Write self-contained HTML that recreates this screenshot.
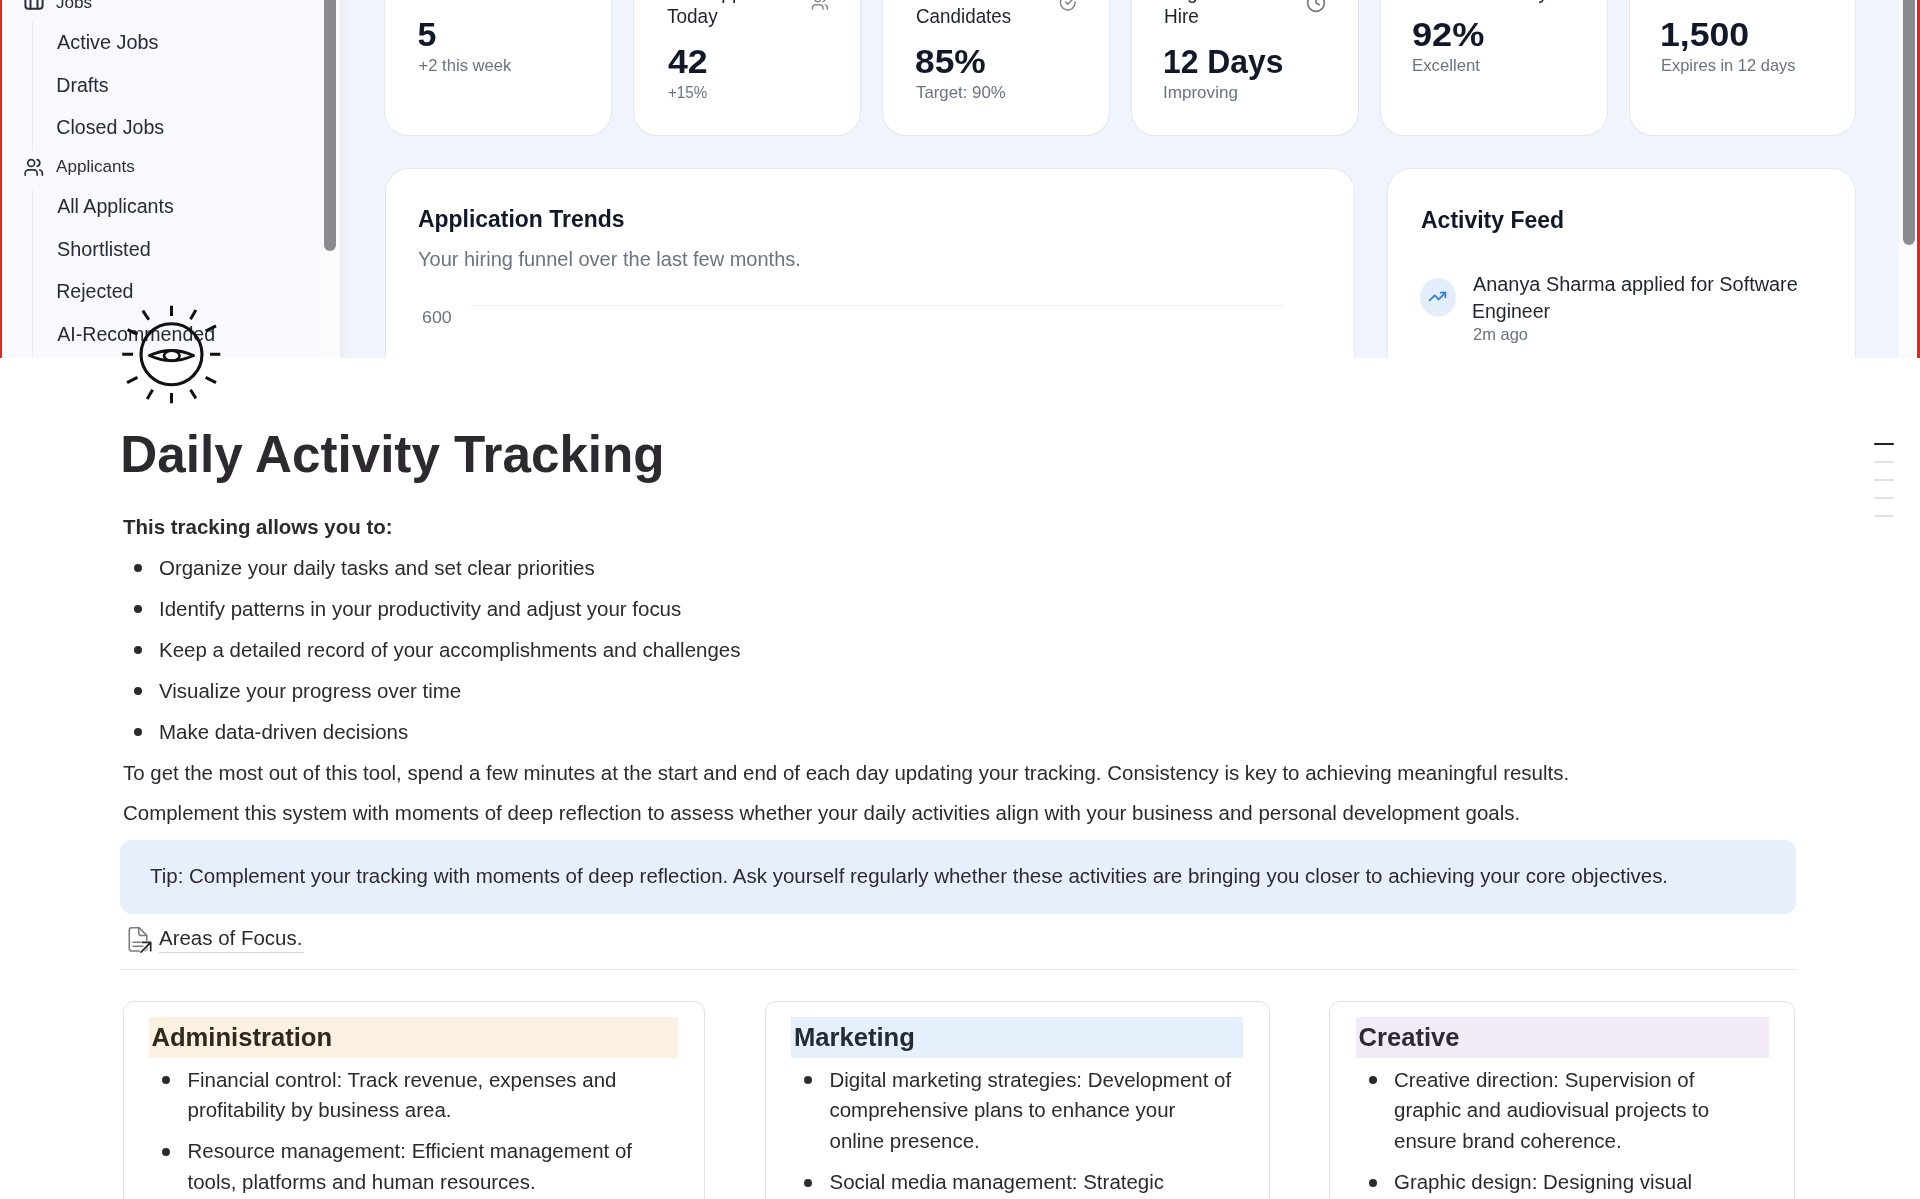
<!DOCTYPE html>
<html><head><meta charset="utf-8">
<style>
*{box-sizing:border-box;margin:0;padding:0}
html,body{width:1920px;height:1199px;overflow:hidden;background:#fff}
#wrap{position:absolute;left:0;top:0;width:1920px;height:1199px;will-change:transform}
body{font-family:"Liberation Sans",sans-serif;color:#2c2a2e;position:relative}
.abs{position:absolute}
/* cover */
#cover{position:absolute;left:0;top:0;width:1920px;height:358px;overflow:hidden;background:#f0f4fc}
#sb{position:absolute;left:0;top:0;width:340px;height:358px;background:#f8f8fd}
#sbedge{position:absolute;left:340px;top:0;width:13px;height:358px;background:linear-gradient(90deg,#e9eaef,#eef1f8 30%,#f0f4fc)}
.redl{position:absolute;left:0;top:0;width:2px;height:358px;background:#e3261b}
.redr{position:absolute;left:1917px;top:0;width:3px;height:358px;background:#e3261b}
.sbtrack{position:absolute;left:322px;top:0;width:18px;height:358px;background:#fbfbfe}
.thumb{position:absolute;width:12px;background:#8b8b8f;border-radius:6px}
.nav{position:absolute;left:57px;font-size:19.6px;color:#252b37;white-space:nowrap;line-height:24px}
.navh{position:absolute;left:56px;font-size:17px;color:#2b303b;white-space:nowrap;line-height:20px}
.tree{position:absolute;left:32px;width:1px;background:#e9ebf0}
.card{position:absolute;background:#fff;border-radius:23px;box-shadow:0 0 0 1px #e6e8ee,0 1px 2px rgba(0,0,0,.06)}
.lbl{position:absolute;font-size:19px;color:#1f2430;white-space:nowrap;line-height:24px}
.num{position:absolute;font-size:32px;font-weight:bold;color:#111827;white-space:nowrap;line-height:36px}
.sub{position:absolute;font-size:16.5px;color:#6b7280;white-space:nowrap;line-height:20px}
/* notion */
.t{position:absolute;font-size:20.48px;line-height:30.72px;white-space:nowrap;color:#2c2a2e}
.b{font-weight:bold}
.dot{position:absolute;width:8px;height:8px;border-radius:50%;background:#2c2a2e}
.col{position:absolute;top:1001px;height:260px;border:1.3px solid #e2e0e3;border-radius:11px;background:#fff}
.h3{position:absolute;top:1017px;height:41px;font-size:25.6px;font-weight:bold;line-height:41px;padding-left:3px;white-space:nowrap}
.ct{position:absolute;white-space:nowrap;transform-origin:0 0}
.toc{position:absolute;left:1874px;width:20px;height:2px;border-radius:1px;background:#e3e3e3}
</style></head><body><div id="wrap">
<div id="cover">
  <div id="sb"></div>
  <div class="sbtrack"></div>
  <div id="sbedge"></div>
  <div class="thumb" style="left:324px;top:-20px;height:271px"></div>
  <div class="redl"></div>
  <svg class="abs" style="left:23.5px;top:-12px" width="20" height="23" viewBox="0 0 20 23" fill="none" stroke="#2b303b" stroke-width="2" stroke-linecap="round" stroke-linejoin="round"><rect x="1.4" y="1" width="17.2" height="19.8" rx="3"/><path d="M6.5 1v19.8M13.5 1v19.8"/></svg>
  <div class="tree" style="top:21px;height:130px"></div>
  <svg class="abs" style="left:23px;top:156.6px" width="21.5" height="20.6" viewBox="0 0 24 24" fill="none" stroke="#2b303b" stroke-width="2" stroke-linecap="round" stroke-linejoin="round"><path d="M16 21v-2a4 4 0 0 0-4-4H6a4 4 0 0 0-4 4v2"/><circle cx="9" cy="7" r="4"/><path d="M22 21v-2a4 4 0 0 0-3-3.87"/><path d="M16 3.13a4 4 0 0 1 0 7.75"/></svg>
  <div class="tree" style="top:190px;height:168px"></div>

  <div class="card" style="left:385px;top:-40px;width:226px;height:175px"></div>
  <div class="card" style="left:634px;top:-40px;width:226px;height:175px"></div>
  <div class="card" style="left:883px;top:-40px;width:226px;height:175px"></div>
  <div class="card" style="left:1132px;top:-40px;width:226px;height:175px"></div>
  <div class="card" style="left:1381px;top:-40px;width:225.5px;height:175px"></div>
  <div class="card" style="left:1630px;top:-40px;width:225px;height:175px"></div>

  <svg class="abs" style="left:810.5px;top:-7px" width="18" height="19" viewBox="0 0 24 24" fill="none" stroke="#84878d" stroke-width="1.9" stroke-linecap="round" stroke-linejoin="round"><path d="M16 21v-2a4 4 0 0 0-4-4H6a4 4 0 0 0-4 4v2"/><circle cx="9" cy="7" r="4"/><path d="M22 21v-2a4 4 0 0 0-3-3.87"/><path d="M16 3.13a4 4 0 0 1 0 7.75"/></svg>
  <svg class="abs" style="left:1059.2px;top:-5.6px" width="17.5" height="17.5" viewBox="0 0 24 24" fill="none" stroke="#7f8186" stroke-width="2" stroke-linecap="round" stroke-linejoin="round"><path d="M22 11.08V12a10 10 0 1 1-5.93-9.14"/><path d="M22 4 12 14.01l-3-3"/></svg>
  <svg class="abs" style="left:1305.6px;top:-6.6px" width="20" height="20" viewBox="0 0 24 24" fill="none" stroke="#76797e" stroke-width="2" stroke-linecap="round" stroke-linejoin="round"><circle cx="12" cy="12" r="10"/><path d="M12 6v6l4 2"/></svg>

  <div class="card" style="left:386px;top:169px;width:968px;height:260px"></div>
  <div class="abs" style="left:470px;top:305px;width:813px;height:1px;background:#eef0f3"></div>
  <div class="card" style="left:1388px;top:169px;width:466.5px;height:260px"></div>
  <div class="abs" style="left:1420px;top:278px;width:36px;height:39px;border-radius:50%;background:#e4eefb"></div>
  <svg class="abs" style="left:1427px;top:287px" width="21" height="19" viewBox="0 0 24 24" fill="none" stroke="#2f7fd6" stroke-width="2.2" stroke-linecap="round" stroke-linejoin="round"><path d="M22 7 13.5 15.5 8.5 10.5 2 17"/><path d="M16 7h6v6"/></svg>
  <div class="ct" style="left:417.60px;top:16.61px;font-size:34px;line-height:34px;color:#111827;font-weight:bold;">5</div>
  <div class="ct" style="left:667.50px;top:43.71px;font-size:34px;line-height:34px;color:#111827;font-weight:bold;transform:scaleX(1.050);">42</div>
  <div class="ct" style="left:915.21px;top:43.71px;font-size:34px;line-height:34px;color:#111827;font-weight:bold;transform:scaleX(1.039);">85%</div>
  <div class="ct" style="left:1163.03px;top:44.11px;font-size:34px;line-height:34px;color:#111827;font-weight:bold;transform:scaleX(0.937);">12 Days</div>
  <div class="ct" style="left:1411.94px;top:17.01px;font-size:34px;line-height:34px;color:#111827;font-weight:bold;transform:scaleX(1.063);">92%</div>
  <div class="ct" style="left:1660.21px;top:17.01px;font-size:34px;line-height:34px;color:#111827;font-weight:bold;transform:scaleX(1.047);">1,500</div>
  <div class="ct" style="left:666.60px;top:6.66px;font-size:19.3px;line-height:19.3px;color:#1f2430;transform:scaleX(0.984);">Today</div>
  <div class="ct" style="left:665.60px;top:-17.34px;font-size:19.3px;line-height:19.3px;color:#1f2430;">New Applications</div>
  <div class="ct" style="left:916.00px;top:6.86px;font-size:19.3px;line-height:19.3px;color:#1f2430;transform:scaleX(0.976);">Candidates</div>
  <div class="ct" style="left:916.00px;top:-17.14px;font-size:19.3px;line-height:19.3px;color:#1f2430;">Shortlisted</div>
  <div class="ct" style="left:1163.92px;top:6.66px;font-size:19.3px;line-height:19.3px;color:#1f2430;transform:scaleX(0.984);">Hire</div>
  <div class="ct" style="left:1164.90px;top:-17.34px;font-size:19.3px;line-height:19.3px;color:#1f2430;">Avg. Time to</div>
  <div class="ct" style="left:1412.00px;top:-17.34px;font-size:19.3px;line-height:19.3px;color:#1f2430;">Match Accuracy</div>
  <div class="ct" style="left:1662.30px;top:-17.34px;font-size:19.3px;line-height:19.3px;color:#1f2430;">Credits Left</div>
  <div class="ct" style="left:418.60px;top:57.84px;font-size:16.6px;line-height:16.6px;color:#6b7280;">+2 this week</div>
  <div class="ct" style="left:667.50px;top:84.84px;font-size:16.6px;line-height:16.6px;color:#6b7280;transform:scaleX(0.913);">+15%</div>
  <div class="ct" style="left:916.25px;top:84.84px;font-size:16.6px;line-height:16.6px;color:#6b7280;transform:scaleX(1.014);">Target: 90%</div>
  <div class="ct" style="left:1163.47px;top:85.04px;font-size:16.6px;line-height:16.6px;color:#6b7280;transform:scaleX(1.028);">Improving</div>
  <div class="ct" style="left:1411.99px;top:58.14px;font-size:16.6px;line-height:16.6px;color:#6b7280;transform:scaleX(1.009);">Excellent</div>
  <div class="ct" style="left:1661.31px;top:58.14px;font-size:16.6px;line-height:16.6px;color:#6b7280;transform:scaleX(0.992);">Expires in 12 days</div>
  <div class="ct" style="left:418.00px;top:207.34px;font-size:24.7px;line-height:24.7px;color:#111827;font-weight:bold;transform:scaleX(0.929);">Application Trends</div>
  <div class="ct" style="left:418.00px;top:249.32px;font-size:20px;line-height:20px;color:#6b7280;">Your hiring funnel over the last few months.</div>
  <div class="ct" style="left:422.00px;top:308.61px;font-size:17px;line-height:17px;color:#6b7280;transform:scaleX(1.048);">600</div>
  <div class="ct" style="left:1421.25px;top:208.09px;font-size:24.7px;line-height:24.7px;color:#111827;font-weight:bold;transform:scaleX(0.931);">Activity Feed</div>
  <div class="ct" style="left:1473.00px;top:274.99px;font-size:19.5px;line-height:19.5px;color:#1f2430;transform:scaleX(1.019);">Ananya Sharma applied for Software</div>
  <div class="ct" style="left:1472.00px;top:301.99px;font-size:19.5px;line-height:19.5px;color:#1f2430;">Engineer</div>
  <div class="ct" style="left:1473.00px;top:325.53px;font-size:16.5px;line-height:16.5px;color:#6b7280;">2m ago</div>
  <div class="ct" style="left:55.90px;top:-6.36px;font-size:17.2px;line-height:17.2px;color:#2b303b;">Jobs</div>
  <div class="ct" style="left:57.30px;top:33.30px;font-size:19.6px;line-height:19.6px;color:#252b37;transform:scaleX(1.012);">Active Jobs</div>
  <div class="ct" style="left:56.30px;top:75.60px;font-size:19.6px;line-height:19.6px;color:#252b37;">Drafts</div>
  <div class="ct" style="left:56.30px;top:118.20px;font-size:19.6px;line-height:19.6px;color:#252b37;">Closed Jobs</div>
  <div class="ct" style="left:55.90px;top:158.24px;font-size:17.2px;line-height:17.2px;color:#2b303b;transform:scaleX(0.994);">Applicants</div>
  <div class="ct" style="left:57.20px;top:196.50px;font-size:19.6px;line-height:19.6px;color:#252b37;">All Applicants</div>
  <div class="ct" style="left:57.20px;top:240.20px;font-size:19.6px;line-height:19.6px;color:#252b37;transform:scaleX(1.012);">Shortlisted</div>
  <div class="ct" style="left:56.20px;top:281.50px;font-size:19.6px;line-height:19.6px;color:#252b37;">Rejected</div>
  <div class="ct" style="left:57.20px;top:325.40px;font-size:19.6px;line-height:19.6px;color:#252b37;">AI-Recommended</div>
  <div class="abs" style="left:1899px;top:0;width:18px;height:358px;background:#fbfbfd"></div>
  <div class="thumb" style="left:1903px;top:-20px;height:265px"></div>
  <div class="redr"></div>
</div>

<!-- page icon -->
<svg class="abs" style="left:121px;top:304px" width="101" height="101" viewBox="0 0 101 101" fill="none" stroke="#111" stroke-width="3.1" stroke-linecap="butt">
  <circle cx="50.5" cy="50.3" r="30.5"/>
  <path stroke-width="3.0" d="M50.5 1.7L50.5 12.0M74.9 6.1L69.5 15.3M95.0 21.8L84.7 27.2M99.3 50.2L89.0 50.2M95.0 78.7L84.7 73.3M74.9 94.4L69.5 85.7M50.5 99.3L50.5 89.0M26.2 94.9L31.6 85.7M6.1 78.7L16.4 73.3M1.2 50.2L12.1 50.2M6.6 25.6L16.4 30.4M21.8 6.6L27.8 15.8"/>
  <path d="M28.4 51.6Q50.5 41.4 72.6 51.6Q50.5 61.8 28.4 51.6Z" stroke-width="2.8" stroke-linejoin="round"/>
  <ellipse cx="50.8" cy="51.8" rx="7.8" ry="5.2" stroke-width="2.7"/>
</svg>

<div class="abs b" style="left:120.3px;top:419px;font-size:51.2px;line-height:72px;white-space:nowrap;color:#2c2a2e">Daily Activity Tracking</div>

<div class="t b" style="left:123px;top:512px">This tracking allows you to:</div>

<div class="dot" style="left:133.8px;top:564.0px"></div>
<div class="t" style="left:159px;top:553.3px">Organize your daily tasks and set clear priorities</div>
<div class="dot" style="left:133.8px;top:605.0px"></div>
<div class="t" style="left:159px;top:594.3px">Identify patterns in your productivity and adjust your focus</div>
<div class="dot" style="left:133.8px;top:646.0px"></div>
<div class="t" style="left:159px;top:635.3px">Keep a detailed record of your accomplishments and challenges</div>
<div class="dot" style="left:133.8px;top:687.0px"></div>
<div class="t" style="left:159px;top:676.3px">Visualize your progress over time</div>
<div class="dot" style="left:133.8px;top:728.0px"></div>
<div class="t" style="left:159px;top:717.3px">Make data-driven decisions</div>

<div class="t" style="left:123px;top:757.5px">To get the most out of this tool, spend a few minutes at the start and end of each day updating your tracking. Consistency is key to achieving meaningful results.</div>
<div class="t" style="left:123px;top:797.5px">Complement this system with moments of deep reflection to assess whether your daily activities align with your business and personal development goals.</div>

<div class="abs" style="left:120px;top:840px;width:1676px;height:73.8px;background:#e7effc;border-radius:12px"></div>
<div class="t" style="left:150px;top:860.5px">Tip: Complement your tracking with moments of deep reflection. Ask yourself regularly whether these activities are bringing you closer to achieving your core objectives.</div>

<svg class="abs" style="left:124px;top:922px" width="32" height="34" viewBox="0 0 32 34" fill="none" stroke-linecap="round" stroke-linejoin="round"><g stroke="#7c7b7d" stroke-width="1.6"><path d="M15.3 29H7.6a2.3 2.3 0 0 1-2.3-2.3V8.1a2.3 2.3 0 0 1 2.3-2.3h7.6l7.6 7.8v4.6"/><path d="M14.75 5.9v5.3a2.3 2.3 0 0 0 2.3 2.3h5.4"/><path d="M9.1 20.3h7.4M9.1 24.3h9.8"/><path d="M23.3 26.3a2.6 2.6 0 0 1-2.4 2.6" stroke-opacity=".6"/></g><path d="M17 30.1l9.4-9.5M18.4 20.3h8.3v8.4" stroke="#2a292b" stroke-width="1.7"/></svg>
<div class="t" style="left:159px;top:923.2px">Areas of Focus.</div>
<div class="abs" style="left:159px;top:952px;width:145px;height:1px;background:#d6d5d3"></div>

<div class="abs" style="left:120px;top:968.5px;width:1676px;height:1.3px;background:#e9e9e7"></div>

<!-- columns -->
<div class="col" style="left:122.5px;width:582px"></div>
<div class="h3" style="left:148.5px;width:529.5px;background:#fbf1e1;color:#302820">Administration</div>
<div class="dot" style="left:161.8px;top:1076.3px"></div>
<div class="t" style="left:187.5px;top:1064.5px">Financial control: Track revenue, expenses and</div>
<div class="t" style="left:187.5px;top:1095px">profitability by business area.</div>
<div class="dot" style="left:161.8px;top:1148.1px"></div>
<div class="t" style="left:187.5px;top:1136.3px">Resource management: Efficient management of</div>
<div class="t" style="left:187.5px;top:1166.8px">tools, platforms and human resources.</div>

<div class="col" style="left:764.5px;width:505px"></div>
<div class="h3" style="left:791px;width:452px;background:#e6effc;color:#262b33">Marketing</div>
<div class="dot" style="left:804.3px;top:1076.3px"></div>
<div class="t" style="left:829.5px;top:1064.5px">Digital marketing strategies: Development of</div>
<div class="t" style="left:829.5px;top:1095px">comprehensive plans to enhance your</div>
<div class="t" style="left:829.5px;top:1125.5px">online presence.</div>
<div class="dot" style="left:804.3px;top:1178.6px"></div>
<div class="t" style="left:829.5px;top:1166.9px">Social media management: Strategic</div>

<div class="col" style="left:1329px;width:466px"></div>
<div class="h3" style="left:1355.5px;width:413.5px;background:#f3ecf8;color:#2f2a33">Creative</div>
<div class="dot" style="left:1369.3px;top:1076.3px"></div>
<div class="t" style="left:1394px;top:1064.5px">Creative direction: Supervision of</div>
<div class="t" style="left:1394px;top:1095px">graphic and audiovisual projects to</div>
<div class="t" style="left:1394px;top:1125.5px">ensure brand coherence.</div>
<div class="dot" style="left:1369.3px;top:1178.6px"></div>
<div class="t" style="left:1394px;top:1166.9px">Graphic design: Designing visual</div>

<!-- toc -->
<div class="toc" style="left:1874px;top:443px;background:#222"></div>
<div class="toc" style="top:461px"></div>
<div class="toc" style="top:479px"></div>
<div class="toc" style="top:497px"></div>
<div class="toc" style="top:514.5px"></div>
</div></body></html>
